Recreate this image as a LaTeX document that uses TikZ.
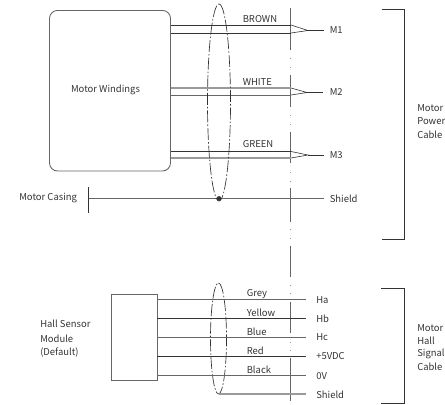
\documentclass[tikz,border=0pt]{standalone}
\usepackage{fontspec}
\setmainfont{Noto Sans CJK SC}
\definecolor{ink}{HTML}{333333}
\definecolor{pale}{HTML}{9A9A9A}
\definecolor{mid}{HTML}{666666}
\tikzset{
  lbl/.style={inner sep=0pt,anchor=west,text=ink,font=\fontsize{7.1pt}{8pt}\selectfont,align=left},
  wire/.style={draw=ink,line width=0.65pt},
  palewire/.style={draw=pale,line width=0.95pt},
  thin wire/.style={draw=mid,line width=0.55pt},
  loom/.style={draw=ink,line width=0.5pt,dash pattern=on 9pt off 1.5pt on 1.2pt off 1.5pt},
  cutline/.style={draw=mid,line width=0.65pt},
  cutdot/.style={draw=pale,line width=0.5pt},
  brack/.style={draw=ink,line width=0.65pt},
  boxshape/.style={draw=mid,line width=0.65pt,inner sep=0pt,fill=none},
}
\begin{document}
\begin{tikzpicture}[x=0.75pt,y=-0.75pt]
\useasboundingbox (0,0) rectangle (445,404);
% boxes
\node[boxshape,rounded corners=6pt,minimum width=90.75pt,minimum height=120.4pt] (win) at (110,90.7) {};
\node[lbl,anchor=center] (wintxt) at (105.5,90) {Motor Windings};
\node[boxshape,minimum width=34.5pt,minimum height=64.5pt] (hall) at (134,337) {};
% vertical cut line
\foreach \a/\b in {8/50,75/107,132/163,188/222,246/277,302/333,358/401}
  \draw[cutline] (290.5,\a) -- (290.5,\b);
\foreach \a in {58,67,115,124,172,181,229,238,285,293,342,350}
  \draw[cutdot] (290.5,\a) -- (290.5,\a+1);
% motor power wires
\foreach \nm/\ya/\yb/\yc/\sa/\sb/\lab/\ly/\term/\ex in {
  m1/25/33/30.5/wire/wire/BROWN/19.5/M1/308,
  m2/88/95/92.5/palewire/thin wire/WHITE/82/M2/307,
  m3/151.5/158/155/wire/palewire/GREEN/144.5/M3/308}{
  \coordinate (\nm a) at (291,\ya);
  \coordinate (\nm b) at (291,\yb);
  \coordinate (\nm j) at (\ex,\yc);
  \node[lbl] (\nm lab) at (242.5,\ly) {\lab};
  \node[lbl] (\nm t) at (329.5,\yc) {\term};
  \draw[\sa] (win.east |- \nm a) -- (\nm a);
  \draw[\sb] (win.east |- \nm b) -- (\nm b);
  \draw[draw=ink,line width=0.45pt] (\nm a) -- (\nm j) -- (\nm b);
  \draw[wire,line width=0.5pt] (\nm j) -- ++(16,0);
}
% casing
\node[lbl] (casing) at (19,198) {Motor Casing};
\coordinate (casA) at (88.5,187);
\coordinate (casB) at (88.5,213);
\coordinate (casC) at (88.5,198.5);
\draw[wire] (casA) -- (casB);
\node[lbl] (sh1) at (329.5,199) {Shield};
\draw[thin wire] (casC) -- (324,198.5);
% loom ellipses
\node[draw=none,inner sep=0pt] (loom1c) at (219,102.5) {};
\draw[loom] (loom1c) ++(0,-98.5) arc[start angle=-90,end angle=270,x radius=11.5,y radius=98.5];
\node[circle,fill=ink,inner sep=0pt,minimum size=3.6pt] (bond) at (219,198.5) {};
\node[draw=none,inner sep=0pt] (loom2c) at (218.5,338.5) {};
\draw[loom] (loom2c) ++(0,-55.5) arc[start angle=-90,end angle=270,x radius=8,y radius=55.5];
% hall wires
\foreach \nm/\y/\st/\lab/\ly/\term in {
  ha/299.5/thin wire/Grey/294.5/Ha,
  hb/318/wire/Yellow/313/Hb,
  hc/337/thin wire/Blue/331.5/Hc,
  hd/356/wire/Red/350.5/+5VDC,
  he/375.5/thin wire/Black/369.5/0V}{
  \coordinate (\nm) at (306,\y);
  \draw[\st] (hall.east |- \nm) -- (\nm);
  \node[lbl] (\nm lab) at (246.5,\ly) {\lab};
  \node[lbl] (\nm t) at (316,\y+0.5) {\term};
}
\coordinate (hs) at (306,394);
\draw[palewire] (218.5,394) -- (hs);
\node[lbl] (hst) at (316,394.5) {Shield};
% brackets
\draw[brack] (381.5,9.5) -| (404.5,239) -- (381.5,239);
\draw[brack] (381,288.5) -| (404.5,403.3) -- (381,403.3);
% group labels
\node[lbl] (pw) at (417,108.5) {Motor};
\node[lbl] (pw2) at (417,121.5) {Power};
\node[lbl] (pw3) at (417,134.5) {Cable};
\node[lbl] (hg1) at (417,328) {Motor};
\node[lbl] (hg2) at (417,341) {Hall};
\node[lbl] (hg3) at (417,354) {Signal};
\node[lbl] (hg4) at (417,367) {Cable};
\node[lbl] (hm1) at (40,324) {Hall Sensor};
\node[lbl] (hm2) at (40,338.5) {Module};
\node[lbl] (hm3) at (40,353) {(Default)};
\end{tikzpicture}
\end{document}
